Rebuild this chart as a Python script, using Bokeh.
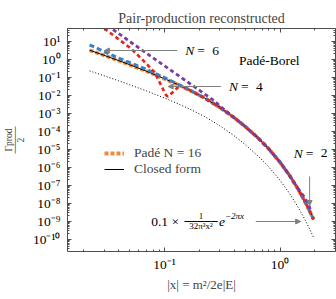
import math
from bokeh.plotting import figure
from bokeh.models import (Range1d, LogAxis, FixedTicker, CustomJSTickFormatter, Label,
                          Arrow, NormalHead, Legend, LegendItem)
from bokeh.embed import file_html
from bokeh.resources import INLINE

FONT = "Liberation Serif"

# ---------------- data ----------------
x_common = [0.0225, 0.03, 0.04, 0.05, 0.07, 0.1, 0.13, 0.17, 0.22, 0.3, 0.4, 0.5,
            0.65, 0.8, 1.0, 1.2, 1.4, 1.6, 1.8, 1.95]
closed_form = [3.16, 1.65, 0.845, 0.494, 0.213, 0.0824, 0.0391, 0.0172, 0.00728, 0.00212,
               5.73e-4, 1.81e-4, 4.03e-5, 1.03e-5, 1.88e-6, 3.72e-7, 7.78e-8, 1.69e-8,
               3.81e-9, 1.26e-9]
pade_n16 = [3.16, 1.65, 0.845, 0.494, 0.213, 0.0824, 0.0391, 0.0172, 0.00728, 0.00212,
            5.73e-4, 1.81e-4, 4.03e-5, 1.03e-5, 1.88e-6, 3.72e-7, 7.78e-8, 1.69e-8,
            3.81e-9, 1.26e-9]
asymptote = [0.225, 0.121, 0.0637, 0.0382, 0.0172, 6.98e-3, 3.43e-3, 1.56e-3, 6.8e-4,
             2.04e-4, 5.6e-5, 1.8e-5, 4.02e-6, 1.03e-6, 1.88e-7, 3.72e-8, 7.78e-9,
             1.69e-9, 3.81e-10, 1.26e-10]
pade_n6 = [6.3, 2.68, 1.16, 0.655, 0.272, 0.095, 0.042, 0.0175, 0.00728, 0.00212,
           5.73e-4, 1.81e-4, 4.03e-5, 1.03e-5, 1.88e-6, 3.72e-7, 7.78e-8, 1.69e-8,
           3.81e-9, 1.26e-9]
x_n4 = [0.027, 0.0302, 0.04, 0.0516, 0.065, 0.082, 0.0937, 0.1, 0.1034, 0.107, 0.112,
        0.118, 0.1304, 0.145, 0.17, 0.22, 0.3, 0.4, 0.5, 0.65, 0.8, 1.0, 1.2, 1.4, 1.6,
        1.8, 1.95]
pade_n4 = [88, 50.8, 13.0, 3.78, 0.9, 0.19, 0.0346, 0.0149, 0.0098, 0.0086, 0.0109,
           0.0147, 0.0268, 0.029, 0.0172, 0.00728, 0.00212, 5.73e-4, 1.81e-4, 4.03e-5,
           1.03e-5, 1.88e-6, 3.72e-7, 7.78e-8, 1.69e-8, 3.81e-9, 1.26e-9]
x_n2 = [0.032, 0.04, 0.05, 0.06, 0.07, 0.085, 0.1, 0.12, 0.14, 0.17, 0.2, 0.23, 0.27,
        0.3, 0.4, 0.5, 0.65, 0.8, 1.0, 1.2, 1.4, 1.6, 1.75, 1.84]
pade_n2 = [73, 26.9, 9.8, 4.31, 2.15, 0.897, 0.43, 0.189, 0.0944, 0.0394, 0.0189,
           0.01005, 0.00488, 0.0026, 5.73e-4, 1.81e-4, 4.03e-5, 1.03e-5, 1.88e-6,
           3.72e-7, 8.0e-8, 2.5e-8, 1.0e-8, 4.0e-9]

x_major = [0.1, 1.0]
x_minor = [m * 10.0 ** k for k in (-2, -1, 0) for m in range(2, 10)]
y_major = [10.0 ** k for k in range(-10, 2)]
y_minor = [m * 10.0 ** k for k in range(-11, 2) for m in range(2, 10)]

ORANGE = "#f08a3c"
BLUE = "#3b7fc4"
RED = "#e8231c"
PURPLE = "#7b3c9e"
GRAY = "#808080"
FRAME = "#4d4d4d"

# ---------------- figure ----------------
p = figure(width=336, height=299, x_axis_type="log", y_axis_type="log",
           x_range=Range1d(0.01449, 3.02), y_range=Range1d(2.07e-11, 50.8),
           output_backend="svg", toolbar_location=None,
           min_border_left=66, min_border_right=1, min_border_top=28, min_border_bottom=48)
p.grid.visible = False
p.outline_line_color = FRAME
p.outline_line_width = 1
p.background_fill_color = "white"
p.border_fill_color = "white"

p.title.text = "Pair-production reconstructed"
p.title.align = "center"
p.title.vertical_align = "top"
p.title.text_font = FONT
p.title.text_font_size = "14px"
p.title.text_font_style = "normal"
p.title.standoff = 2
p.title.offset = 30

sup_js = """
const e = Math.round(Math.log10(tick));
const m = {'-':'\u207b','0':'\u2070','1':'\u00b9','2':'\u00b2','3':'\u00b3','4':'\u2074',
           '5':'\u2075','6':'\u2076','7':'\u2077','8':'\u2078','9':'\u2079'};
return '10' + String(e).split('').map(c => m[c]).join('');
"""

def style_axis(ax, labels=True):
    ax.axis_line_color = None
    ax.major_tick_in = 4
    ax.major_tick_out = 0
    ax.minor_tick_in = 2
    ax.minor_tick_out = 0
    ax.major_tick_line_color = FRAME
    ax.minor_tick_line_color = FRAME
    if labels:
        ax.formatter = CustomJSTickFormatter(code=sup_js)
        ax.major_label_text_font = FONT
        ax.major_label_text_font_size = "13.5px"
        ax.major_label_text_color = "black"
    else:
        ax.formatter = CustomJSTickFormatter(code="return '';")
        ax.major_label_text_font_size = "1px"
        ax.major_label_standoff = 0

xa = p.xaxis[0]
xa.ticker = FixedTicker(ticks=x_major, minor_ticks=x_minor)
style_axis(xa)
xa.major_label_standoff = 5
xa.axis_label = "|x| = m\u00b2/2e|E|"
xa.axis_label_text_font = FONT
xa.axis_label_text_font_size = "13px"
xa.axis_label_text_font_style = "normal"
xa.axis_label_standoff = 2

ya = p.yaxis[0]
ya.ticker = FixedTicker(ticks=y_major, minor_ticks=y_minor)
style_axis(ya)
ya.major_label_standoff = 7
ya.axis_label = "\u0393prod\n\u2500\u2500\u2500\u2500\n2"
ya.axis_label_text_font = FONT
ya.axis_label_text_font_size = "9.5px"
ya.axis_label_text_font_style = "normal"
ya.axis_label_text_line_height = 0.6
ya.axis_label_standoff = 4

top = LogAxis(ticker=FixedTicker(ticks=x_major, minor_ticks=x_minor))
style_axis(top, labels=False)
p.add_layout(top, "above")
right = LogAxis(ticker=FixedTicker(ticks=y_major, minor_ticks=y_minor))
style_axis(right, labels=False)
p.add_layout(right, "right")

# ---------------- curves ----------------
r16 = p.line(x_common, pade_n16, line_color=ORANGE, line_width=3.8, line_dash="4 2")
rcf = p.line(x_common, closed_form, line_color="black", line_width=1)
p.line(x_common, pade_n6, line_color=BLUE, line_width=3, line_dash="5 3")
p.line(x_n4, pade_n4, line_color=RED, line_width=2.6, line_dash="4 3")
p.line(x_n2, pade_n2, line_color=PURPLE, line_width=2.8, line_dash="4 3")
p.line(x_common, asymptote, line_color="black", line_width=1, line_dash="1 2")

legend = Legend(items=[LegendItem(label="Padé N = 16", renderers=[r16]),
                       LegendItem(label="Closed form", renderers=[rcf])],
                location=(37, 74), padding=0, margin=0, spacing=0,
                glyph_width=20, glyph_height=16, label_height=16, label_standoff=10,
                label_text_font=FONT, label_text_font_size="13.5px",
                border_line_color=None, background_fill_alpha=0)
p.add_layout(legend, "center")

# ---------------- annotations (inside the frame) ----------------
def txt(x, y, text, size="13.5px", style="normal", align="left", baseline="middle",
        dx=0, dy=0, font=FONT):
    p.add_layout(Label(x=x, y=y, text=text, x_offset=dx, y_offset=dy,
                       text_font=font, text_font_size=size, text_font_style=style,
                       text_align=align, text_baseline=baseline, text_color="black"))

def arrow(x0, y0, x1, y1):
    p.add_layout(Arrow(end=NormalHead(size=5, fill_color=GRAY, line_color=GRAY),
                       x_start=x0, y_start=y0, x_end=x1, y_end=y1,
                       line_color=GRAY, line_width=1))

def n_label(x, y, n):
    txt(x, y, "N", style="italic")
    txt(x, y, "=", dx=12)
    txt(x, y, n, dx=27)

# N = 6
arrow(0.1287, 3.04, 0.0302, 3.04)
n_label(0.151, 3.04, "6")
# Padé-Borel
txt(0.4406, 0.847, "Padé-Borel")
# N = 4
arrow(0.308, 0.0304, 0.1076, 0.0304)
n_label(0.361, 0.0304, "4")
# N = 2
n_label(1.312, 5.77e-6, "2")
arrow(1.803, 3.04e-7, 1.803, 7.45e-9)
# asymptotic formula
txt(0.0768, 9.6e-10, "0.1 \u00d7")
txt(0.2072, 2.07e-9, "1", size="9px", align="center")
txt(0.2072, 9.6e-10, "\u2500\u2500\u2500\u2500\u2500", size="11px", align="center",
    font="DejaVu Sans Mono")
txt(0.2072, 5.08e-10, "32\u03c0\u00b3x\u00b2", size="9px", align="center")
txt(0.2962, 9.6e-10, "e", style="italic")
txt(0.3338, 1.94e-9, "\u22122\u03c0x", size="9px", style="italic")
arrow(0.617, 9.6e-10, 1.508, 9.6e-10)

open("out.html", "w").write(file_html(p, INLINE))
